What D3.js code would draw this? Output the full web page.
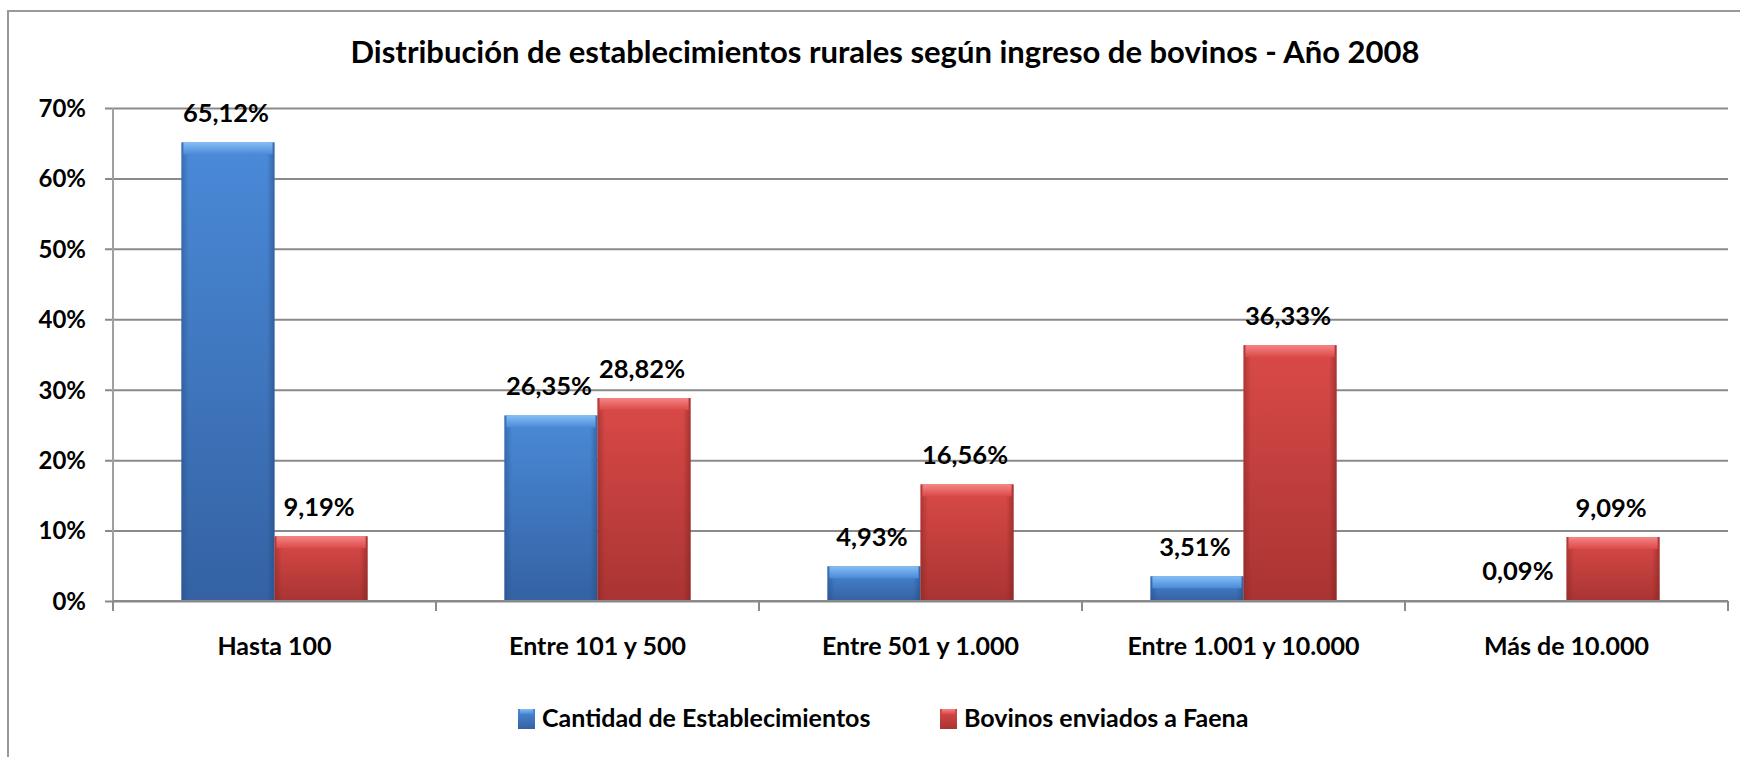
<!DOCTYPE html>
<html>
<head>
<meta charset="utf-8">
<script src="https://cdn.jsdelivr.net/npm/d3@7"></script>
<style>
  body { margin: 0; background: #fff; }
  text { font-family: Lato, "Open Sans", sans-serif; font-weight: bold; fill: #000; }
</style>
</head>
<body>
<div id="viz"></div>
<script>
const categories = ["Hasta 100", "Entre 101 y 500", "Entre 501 y 1.000", "Entre 1.001 y 10.000", "Más de 10.000"];
const series = ["Cantidad de Establecimientos", "Bovinos enviados a Faena"];
const establecimientos = [65.12, 26.35, 4.93, 3.51, 0.09];
const bovinos = [9.19, 28.82, 16.56, 36.33, 9.09];
const yTicks = [0, 10, 20, 30, 40, 50, 60, 70];
const title = "Distribución de establecimientos rurales según ingreso de bovinos - Año 2008";

const W = 1740, H = 757;
const plotL = 113, plotR = 1728, plotT = 108, plotB = 601;

window.onload = () => draw();

function draw() {
    const svg = d3.select('#viz').append('svg')
        .attr('width', W)
        .attr('height', H);

    const defs = svg.append('defs');
    const palettes = [
        { id: 'blue', top: '#4a8ad8', bottom: '#3462a3', bevel: '#86bdf5', edge: '#24497e' },
        { id: 'red', top: '#da4a48', bottom: '#a93432', bevel: '#f58585', edge: '#7c2220' }
    ];
    palettes.forEach(p => {
        const g = defs.append('linearGradient').attr('id', 'body-' + p.id)
            .attr('x1', 0).attr('y1', 0).attr('x2', 0).attr('y2', 1);
        g.append('stop').attr('offset', '0%').attr('stop-color', p.top);
        g.append('stop').attr('offset', '100%').attr('stop-color', p.bottom);
        const e = defs.append('linearGradient').attr('id', 'edge-' + p.id)
            .attr('x1', 0).attr('y1', 0).attr('x2', 1).attr('y2', 0);
        e.append('stop').attr('offset', '0%').attr('stop-color', p.edge).attr('stop-opacity', 0.45);
        e.append('stop').attr('offset', '8%').attr('stop-color', p.edge).attr('stop-opacity', 0);
        e.append('stop').attr('offset', '92%').attr('stop-color', p.edge).attr('stop-opacity', 0);
        e.append('stop').attr('offset', '100%').attr('stop-color', p.edge).attr('stop-opacity', 0.55);
        const b = defs.append('linearGradient').attr('id', 'bevel-' + p.id)
            .attr('x1', 0).attr('y1', 0).attr('x2', 0).attr('y2', 1);
        b.append('stop').attr('offset', '0%').attr('stop-color', p.bevel);
        b.append('stop').attr('offset', '100%').attr('stop-color', p.top);
    });

    // chart frame
    svg.append('rect')
        .attr('x', 8).attr('y', 11)
        .attr('width', W).attr('height', H)
        .attr('fill', 'none')
        .attr('stroke', '#999')
        .attr('stroke-width', 2);

    svg.append('text')
        .attr('x', 885).attr('y', 63)
        .attr('text-anchor', 'middle')
        .style('font-size', '31px')
        .text(title);

    const y = d3.scaleLinear()
        .domain([0, 70])
        .range([plotB, plotT]);

    const x0 = d3.scaleBand()
        .domain(categories)
        .range([plotL, plotR]);

    const x1 = d3.scaleBand()
        .domain(series)
        .range([0, x0.bandwidth()])
        .paddingOuter(0.735);

    // gridlines + y tick labels
    const yAxis = svg.append('g')
        .attr('transform', 'translate(105,0)')
        .call(d3.axisLeft(y)
            .tickValues(yTicks)
            .tickSize(-(plotR - 105))
            .tickPadding(19)
            .tickFormat(d => d + '%'));
    yAxis.select('.domain').remove();
    yAxis.selectAll('line').attr('stroke', '#8a8a8a').attr('stroke-width', 2);
    yAxis.selectAll('text')
        .style('font-size', '24px')
        .style('font-family', 'Lato, "Open Sans", sans-serif')
        .attr('fill', '#000')
        .attr('dy', '0.35em');

    // vertical axis line
    svg.append('line')
        .attr('x1', plotL).attr('x2', plotL)
        .attr('y1', plotT).attr('y2', plotB)
        .attr('stroke', '#a0a0a0').attr('stroke-width', 2);

    const rows = categories.map((c, i) => ({
        cat: c,
        values: [
            { s: series[0], v: establecimientos[i], p: 'blue' },
            { s: series[1], v: bovinos[i], p: 'red' }
        ]
    }));

    const groups = svg.selectAll('g.cat')
        .data(rows)
        .enter()
        .append('g')
        .attr('class', 'cat')
        .attr('transform', d => 'translate(' + x0(d.cat) + ',0)');

    const bars = groups.selectAll('g.bar')
        .data(d => d.values)
        .enter()
        .append('g')
        .attr('class', 'bar');

    bars.append('rect')
        .attr('x', d => x1(d.s))
        .attr('y', d => y(d.v))
        .attr('width', x1.bandwidth())
        .attr('height', d => Math.max(1, y(0) - y(d.v)))
        .attr('fill', d => 'url(#body-' + d.p + ')');

    bars.append('rect')
        .attr('x', d => x1(d.s))
        .attr('y', d => y(d.v))
        .attr('width', x1.bandwidth())
        .attr('height', d => Math.max(1, y(0) - y(d.v)))
        .attr('fill', d => 'url(#edge-' + d.p + ')');

    bars.append('rect')
        .attr('x', d => x1(d.s) + 2)
        .attr('y', d => y(d.v))
        .attr('width', x1.bandwidth() - 4)
        .attr('height', d => Math.min(12, Math.max(1, y(0) - y(d.v))))
        .attr('fill', d => 'url(#bevel-' + d.p + ')');

    const fmt = d3.formatLocale({ decimal: ',', thousands: '.', grouping: [3], currency: ['', ''] }).format('.2f');

    bars.append('text')
        .attr('x', d => x1(d.s) + x1.bandwidth() / 2 - 2)
        .attr('y', d => y(d.v) - 20)
        .attr('text-anchor', 'middle')
        .style('font-size', '25.5px')
        .text(d => fmt(d.v) + '%');

    // category axis
    svg.append('line')
        .attr('x1', plotL).attr('x2', plotR)
        .attr('y1', plotB).attr('y2', plotB)
        .attr('stroke', '#8a8a8a').attr('stroke-width', 2);

    svg.selectAll('line.cattick')
        .data(categories.map(c => x0(c)).concat([x0.range()[1]]))
        .enter()
        .append('line')
        .attr('class', 'cattick')
        .attr('x1', d => d).attr('x2', d => d)
        .attr('y1', plotB).attr('y2', plotB + 10)
        .attr('stroke', '#8a8a8a').attr('stroke-width', 2);

    svg.selectAll('text.catlabel')
        .data(categories)
        .enter()
        .append('text')
        .attr('class', 'catlabel')
        .attr('x', d => x0(d) + x0.bandwidth() / 2)
        .attr('y', 655)
        .attr('text-anchor', 'middle')
        .style('font-size', '25px')
        .text(d => d);

    // legend
    const legendX = [518, 940];
    const legend = svg.selectAll('g.legend')
        .data(series.map((s, i) => ({ s: s, p: palettes[i].id, x: legendX[i] })))
        .enter()
        .append('g')
        .attr('class', 'legend')
        .attr('transform', d => 'translate(' + d.x + ',709)');

    legend.append('rect')
        .attr('width', 17).attr('height', 20)
        .attr('fill', d => 'url(#body-' + d.p + ')');
    legend.append('rect')
        .attr('x', 2).attr('width', 13).attr('height', 5)
        .attr('fill', d => 'url(#bevel-' + d.p + ')');
    legend.append('text')
        .attr('x', 24).attr('y', 18)
        .style('font-size', '25px')
        .text(d => d.s);
}
</script>
</body>
</html>
